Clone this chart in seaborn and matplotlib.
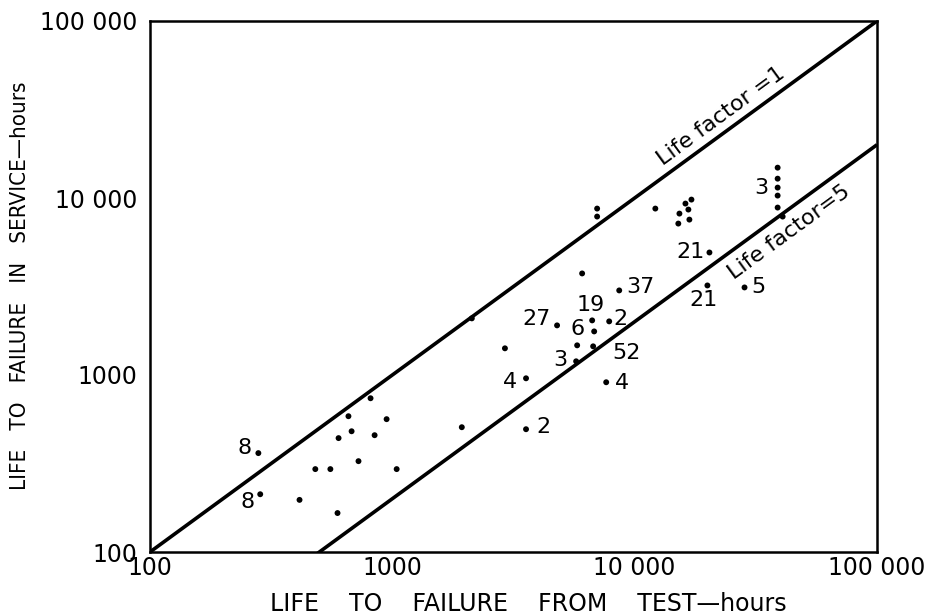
import matplotlib
matplotlib.use("Agg")
import matplotlib.pyplot as plt
import seaborn as sns
import numpy as np
import pandas as pd

# ---- data ----
test_hours = [280, 285, 813, 659, 947, 679, 600, 845, 725, 481, 555, 1042, 414, 594,
              6070, 8635, 4784, 6677, 6806, 7850, 2915, 5790, 6740, 5734, 3562, 7630,
              1935, 3562, 2128,
              7000, 7000, 12170, 17150, 16200, 16660, 15300, 16820, 15140,
              38900, 38900, 38900, 38900, 38900, 40800,
              20350, 19960, 28400]
service_hours = [362, 212, 739, 585, 563, 481, 440, 457, 326, 294, 294, 294, 197, 166,
                 3748, 3005, 1907, 2035, 1763, 2009, 1415, 1471, 1452, 1195, 958, 910,
                 507, 494, 2089,
                 8715, 7855, 8715, 9795, 9300, 8605, 8165, 7550, 7170,
                 14840, 12860, 11450, 10320, 8830, 7855,
                 4922, 3206, 3124]
point_labels = ["8", "8", "", "", "", "", "", "", "", "", "", "", "", "",
                "", "37", "27", "19", "6", "2", "", "", "52", "3", "4", "4",
                "", "2", "",
                "", "", "", "", "", "", "", "", "",
                "", "", "3", "", "", "",
                "21", "21", "5"]
life_factors = [1, 5]
line_labels = ["Life factor =1", "Life factor=5"]
line_label_x = [22800, 43600]
line_label_y = [29150, 6380]
axis_ticks = [100, 1000, 10000, 100000]
axis_tick_labels = ["100", "1000", "10 000", "100 000"]

# label offsets (pixels, y up) -- style only
label_offsets = {0: (-14, 5), 1: (-13, -8), 15: (21, 3), 16: (-21, 6), 17: (-1, 15),
                 18: (-17, 2), 19: (11, 2), 22: (33, -7), 23: (-16, 1), 24: (-16, -4),
                 25: (16, -1), 27: (17, 2), 40: (-16, 0), 44: (-19, 0), 45: (-4, -15),
                 46: (14, 0)}

df = pd.DataFrame({"test": test_hours, "service": service_hours, "label": point_labels})

sns.set_theme(style="white")
plt.rcParams["font.family"] = ["DejaVu Sans"]
plt.rcParams["text.color"] = "black"
plt.rcParams["axes.labelcolor"] = "black"

fig = plt.figure(figsize=(9.3, 6.15), dpi=100)
ax = fig.add_axes([150 / 930, 63 / 615, 727 / 930, 531 / 615])

ax.set_xscale("log")
ax.set_yscale("log")
ax.set_xlim(100, 100000)
ax.set_ylim(100, 100000)

# life-factor lines
xs = np.array([100.0, 100000.0])
for f in life_factors:
    ax.plot(xs, xs / f, color="black", lw=2.6, solid_capstyle="butt", zorder=2)

sns.scatterplot(data=df, x="test", y="service", ax=ax, color="black",
                s=18, edgecolor="none", zorder=3, legend=False)

for i, lab in enumerate(df["label"]):
    if lab:
        dx, dy = label_offsets.get(i, (12, 0))
        ax.annotate(lab, (df["test"][i], df["service"][i]), xytext=(dx, dy),
                    textcoords="offset pixels", ha="center", va="center",
                    fontsize=16, color="black")

# line labels
angle = np.degrees(np.arctan2(531, 727))
for lab, lx, ly in zip(line_labels, line_label_x, line_label_y):
    ax.text(lx, ly, lab, rotation=angle, rotation_mode="anchor",
            ha="center", va="center", fontsize=16, color="black")

ax.set_xticks(axis_ticks)
ax.set_xticklabels(axis_tick_labels)
ax.set_yticks(axis_ticks)
ax.set_yticklabels(axis_tick_labels)
ax.minorticks_off()
ax.tick_params(axis="both", which="major", direction="in", length=6, width=1.2,
               labelsize=17, colors="black")
ax.tick_params(axis="x", pad=3)
ax.tick_params(axis="y", pad=9)

for sp in ax.spines.values():
    sp.set_color("black")
    sp.set_linewidth(1.8)

ax.set_xlabel("LIFE    TO    FAILURE    FROM    TEST\u2014hours", fontsize=17)
ax.set_ylabel("LIFE   TO   FAILURE   IN   SERVICE\u2014hours", fontsize=16,
              fontstretch="condensed")
ax.xaxis.set_label_coords(0.52, -0.075)
ax.yaxis.set_label_coords(-0.165, 0.502)

fig.savefig("out.png", dpi=100)
